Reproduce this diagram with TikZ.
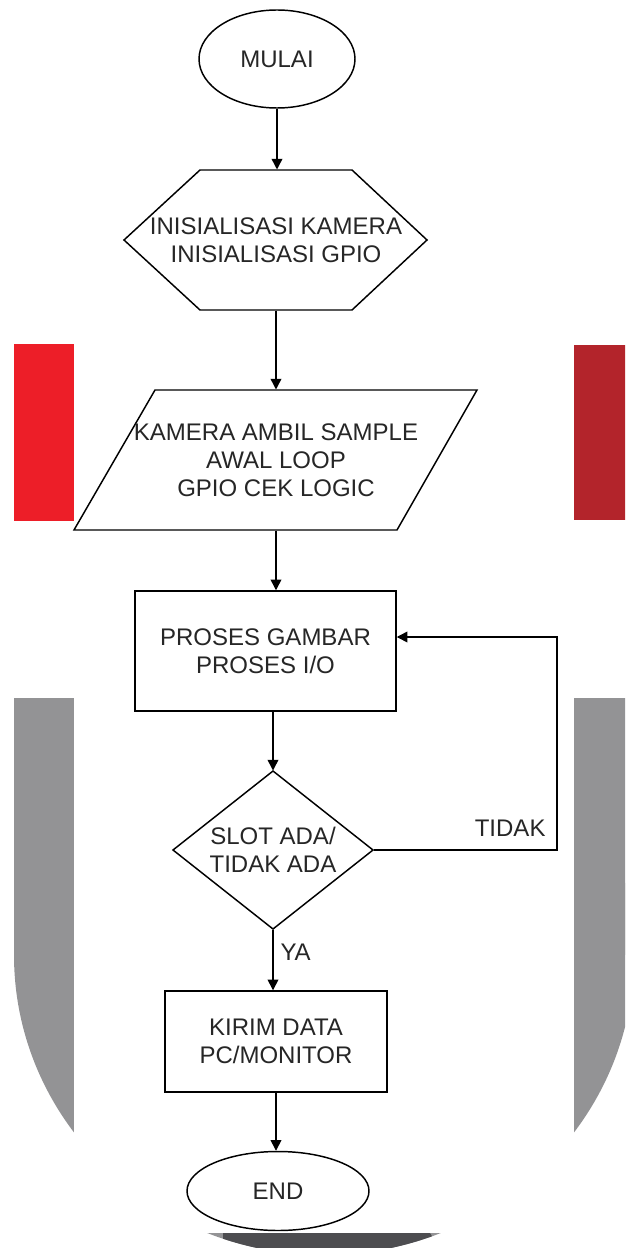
\documentclass[tikz,border=0pt]{standalone}
\usepackage{fontspec}
\setmainfont{Liberation Sans}
\usetikzlibrary{arrows.meta,shapes.geometric}

\tikzset{every picture/.style={line width=0.75pt}}

\begin{document}
\begin{tikzpicture}[x=0.75pt,y=0.75pt,yscale=-1,xscale=1,
    font=\fontsize{18}{21}\selectfont,
    box/.style={draw,line width=1.1pt,align=center,inner sep=0pt,text=black!85},
    txt/.style={inner sep=0.75pt,align=center,text=black!85},
    flow/.style={line width=1.1pt,-{Triangle[length=8pt,width=8pt]}}]
    \useasboundingbox (0,0) rectangle (625,1248);

    % background marks
    \begin{scope}
    \clip (0,0) rectangle (625,1248);
    %Shape: Rectangle
    \fill [color={rgb, 255:red, 237; green, 30; blue, 40 }] (14,344) rectangle (74,521);
    %Shape: Rectangle
    \fill [color={rgb, 255:red, 179; green, 36; blue, 43 }] (574,345) rectangle (634,520);
    %Shape: U
    \fill [color={rgb, 255:red, 147; green, 147; blue, 149 }] (14,698) rectangle (634,955);
    \fill [color={rgb, 255:red, 147; green, 147; blue, 149 }] (324,955) ellipse [x radius=310, y radius=300];
    \fill [white] (74,0) rectangle (574,1233);
    \begin{scope}
    \clip (324,955) ellipse [x radius=310, y radius=300];
    \fill [color={rgb, 255:red, 77; green, 77; blue, 80 }] (223,1233) -- (430,1233) -- (447,1260) -- (223,1260) -- cycle;
    \end{scope}
    \end{scope}

    %Shape: Ellipse
    \node [box, ellipse, minimum width=117pt, minimum height=73.5pt] (mulai) at (277,59) {MULAI};
    %Shape: Hexagon
    \draw [line width=1.1pt] (124,240) -- (200,170) -- (352,170) -- (427,240) -- (352,310) -- (200,310) -- cycle;
    % Text Node
    \node [txt, minimum height=105pt] (init) at (276,240) {INISIALISASI KAMERA\\INISIALISASI GPIO};
    %Shape: Parallelogram
    \draw [line width=1.1pt] (74,530) -- (155,390) -- (477,390) -- (397,530) -- cycle;
    % Text Node
    \node [txt, minimum height=105pt] (sample) at (276,460) {KAMERA AMBIL SAMPLE\\AWAL LOOP\\GPIO CEK LOGIC};
    %Shape: Rectangle
    \node [box, minimum width=195.75pt, minimum height=90pt] (proses) at (265.5,651) {PROSES GAMBAR\\PROSES I/O};
    %Shape: Diamond
    \draw [line width=1.1pt] (273,771) -- (373,850) -- (273,929) -- (173,850) -- cycle;
    % Text Node
    \node [txt, minimum width=150pt, minimum height=118.5pt] (cek) at (273,850) {SLOT ADA/\\TIDAK ADA};
    %Shape: Rectangle
    \node [box, minimum width=166.5pt, minimum height=75.75pt] (kirim) at (276,1041.5) {KIRIM DATA\\PC/MONITOR};
    %Shape: Ellipse
    \node [box, ellipse, minimum width=136.5pt, minimum height=59.25pt] (selesai) at (278,1191) {END};

    % Text Node
    \node [txt, anchor=east] (tidak) at (547,828) {TIDAK};
    % Text Node
    \node [txt, anchor=west] (ya) at (279,952) {YA};

    %Straight Lines
    \coordinate (balik) at (557,637);
    \draw [flow] (mulai) -- (mulai |- init.north);
    \draw [flow] (init.south) -- (sample.north);
    \draw [flow] (sample.south) -- (sample.south |- proses.north);
    \draw [flow] (cek.north |- proses.south) -- (cek.north);
    \draw [flow] (cek.east) -| (balik) -- (balik -| proses.east);
    \draw [flow] (cek.south) -- (cek.south |- kirim.north);
    \draw [flow] (kirim.south) -- (kirim.south |- selesai.north);

\end{tikzpicture}
\end{document}
